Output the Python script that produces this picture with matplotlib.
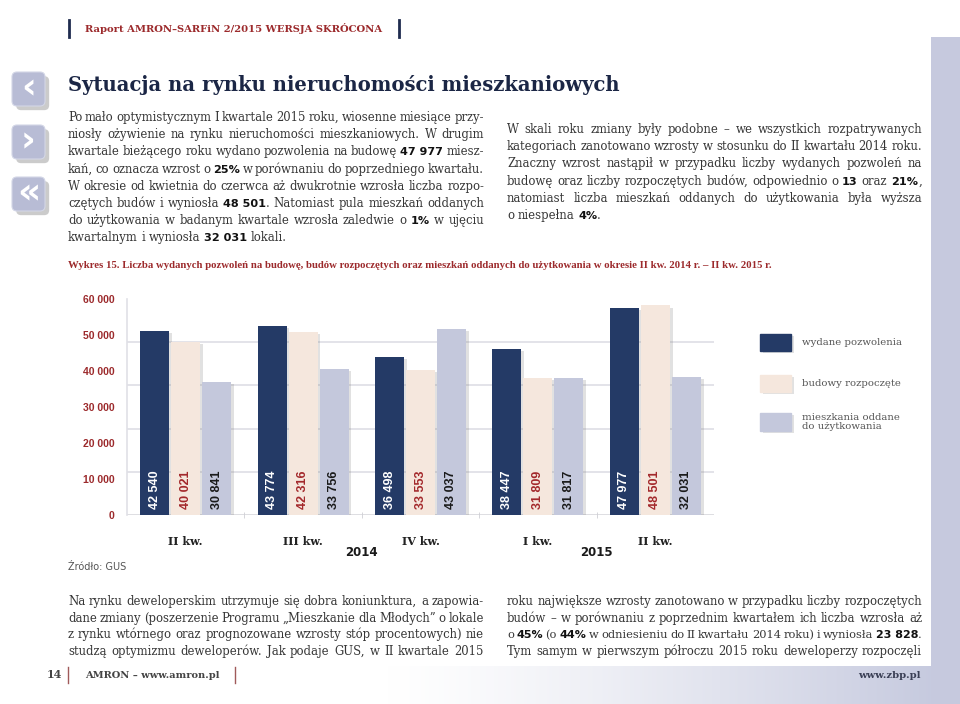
import matplotlib

matplotlib.use("Agg")
import matplotlib.pyplot as plt
import matplotlib.patheffects as pe
import numpy as np
from matplotlib.patches import FancyBboxPatch, Rectangle

# ── data ────────────────────────────────────────────────────────────────────
quarters = ["II kw.", "III kw.", "IV kw.", "I kw.", "II kw."]
years = ["2014", "2015"]
year_pos = [1.5, 3.5]
permits = [42540, 43774, 36498, 38447, 47977]
starts = [40021, 42316, 33553, 31809, 48501]
completed = [30841, 33756, 43037, 31817, 32031]
series_names = ["wydane pozwolenia", "budowy rozpoczęte", "mieszkania oddane\ndo użytkowania"]
ytick_labels = ["0", "10 000", "20 000", "30 000", "40 000", "50 000", "60 000"]
grid_values = [10000, 20000, 30000, 40000, 50000]

header = "Raport AMRON–SARFiN 2/2015 WERSJA SKRÓCONA"
title = "Sytuacja na rynku nieruchomości mieszkaniowych"
caption = ("Wykres 15. Liczba wydanych pozwoleń na budowę, budów rozpoczętych oraz mieszkań "
           "oddanych do użytkowania w okresie II kw. 2014 r. – II kw. 2015 r.")
left_par = [
    "Po mało optymistycznym I kwartale 2015 roku, wiosenne miesiące przy-",
    "niosły ożywienie na rynku nieruchomości mieszkaniowych. W drugim",
    "kwartale bieżącego roku wydano pozwolenia na budowę **47 977** miesz-",
    "kań, co oznacza wzrost o **25%** w porównaniu do poprzedniego kwartału.",
    "W okresie od kwietnia do czerwca aż dwukrotnie wzrosła liczba rozpo-",
    "czętych budów i wyniosła **48 501**. Natomiast pula mieszkań oddanych",
    "do użytkowania w badanym kwartale wzrosła zaledwie o **1%** w ujęciu",
    "kwartalnym i wyniosła **32 031** lokali.",
]
right_par = [
    "W skali roku zmiany były podobne – we wszystkich rozpatrywanych",
    "kategoriach zanotowano wzrosty w stosunku do II kwartału 2014 roku.",
    "Znaczny wzrost nastąpił w przypadku liczby wydanych pozwoleń na",
    "budowę oraz liczby rozpoczętych budów, odpowiednio o **13** oraz **21%**,",
    "natomiast liczba mieszkań oddanych do użytkowania była wyższa",
    "o niespełna **4%**.",
]
bottom_left = [
    "Na rynku deweloperskim utrzymuje się dobra koniunktura, a zapowia-",
    "dane zmiany (poszerzenie Programu „Mieszkanie dla Młodych” o lokale",
    "z rynku wtórnego oraz prognozowane wzrosty stóp procentowych) nie",
    "studzą optymizmu deweloperów. Jak podaje GUS, w II kwartale 2015",
]
bottom_right = [
    "roku największe wzrosty zanotowano w przypadku liczby rozpoczętych",
    "budów – w porównaniu z poprzednim kwartałem ich liczba wzrosła aż",
    "o **45%** (o **44%** w odniesieniu do II kwartału 2014 roku) i wyniosła **23 828**.",
    "Tym samym w pierwszym półroczu 2015 roku deweloperzy rozpoczęli",
]

NAVY = "#243a66"
BEIGE = "#f5e7dd"
LAV = "#c4c8dc"
DRED = "#9c2a2c"
TXT = "#363636"
SERIF = "DejaVu Serif"

W, H = 960, 704
fig = plt.figure(figsize=(W / 100, H / 100), dpi=100)
fig.patch.set_facecolor("white")
R = fig.canvas.get_renderer()

# page layer in pixel coordinates (y grows downwards)
bg = fig.add_axes([0, 0, 1, 1], zorder=0)
bg.axis("off")

grad = np.linspace(0, 1, 256)[None, :] ** 1.3
bg.imshow(grad, extent=[380, 960, 704, 666], cmap=matplotlib.colors.LinearSegmentedColormap.from_list(
    "g", ["white", "#c3c7dd"]), aspect="auto", zorder=0)
bg.add_patch(Rectangle((931, 37), 29, 667, color="#c6c9de", lw=0, zorder=1))
bg.set_xlim(0, W)
bg.set_ylim(H, 0)


def width_of(t):
    return t.get_window_extent(R).width


def fit(x, y, s, target, **kw):
    t = bg.text(x, y, s, fontsize=10, **kw)
    t.set_fontsize(10 * target / width_of(t))
    return t


# header
for xb in (69, 399):
    bg.plot([xb, xb], [20, 37], color="#1f2c4f", lw=2)
fit(85, 29, header, 297, family=SERIF, weight="bold", color=DRED, va="center")

# title
fit(68, 91, title, 555, family=SERIF, weight="bold", color="#1b2645", va="baseline")

# navigation icons
for yi, glyph in zip((72, 125, 177), ("‹", "›", "«")):
    box = FancyBboxPatch((12, yi), 33, 34, boxstyle="round,pad=0,rounding_size=5",
                         fc="#b8bcd5", ec="#d3d6e6", lw=0.8, zorder=3)
    box.set_path_effects([pe.SimplePatchShadow(offset=(3, -3), shadow_rgbFace="#555", alpha=0.3),
                          pe.Normal()])
    bg.add_patch(box)
    bg.text(28.5, yi + 16, glyph, fontsize=26, color="white", weight="bold",
            ha="center", va="center", family="DejaVu Sans", zorder=4)


# justified paragraphs
def parse(line):
    units = []
    parts = line.split("**")
    for i, part in enumerate(parts):
        if i % 2 == 1:
            if units and parts[i - 1] and not parts[i - 1].endswith(" "):
                units[-1].append((part, True))
            else:
                units.append([(part, True)])
            continue
        for j, w in enumerate(part.split(" ")):
            if not w:
                continue
            if j == 0 and i > 0:
                units[-1].append((w, False))
            else:
                units.append([(w, False)])
    return units


def make_piece(txt, bold, size):
    if bold:
        return bg.text(0, 0, txt, fontsize=size * 0.97, family="DejaVu Sans", weight="heavy",
                       color="#111111", va="baseline")
    return bg.text(0, 0, txt, fontsize=size, family=SERIF, color=TXT, va="baseline")


def draw_par(lines, x0, x1, y0, step, size, justify_last=False, min_gap=2.6):
    sp = size * 100 / 72 * 0.32
    for k, line in enumerate(lines):
        y = y0 + k * step
        units = [[(make_piece(txt, b, size), b) for txt, b in u] for u in parse(line)]
        widths = [sum(width_of(t) for t, _ in u) for u in units]
        n = len(units)
        need = sum(widths) + min_gap * (n - 1)
        if need > x1 - x0:  # squeeze an overfull line
            f = (x1 - x0 - min_gap * (n - 1)) / sum(widths)
            for u in units:
                for t, _ in u:
                    t.set_fontsize(t.get_fontsize() * f)
            widths = [sum(width_of(t) for t, _ in u) for u in units]
        if (k < len(lines) - 1 or justify_last) and n > 1:
            gap = (x1 - x0 - sum(widths)) / (n - 1)
        else:
            gap = sp
        x = x0
        for u in units:
            for t, _ in u:
                t.set_position((x, y))
                x += width_of(t)
            x += gap


body = 8.4
draw_par(left_par, 68, 484, 121, 17.2, body)
draw_par(right_par, 507, 922, 133, 17.2, body)
draw_par(bottom_left, 68, 484, 605, 16.7, body, justify_last=True)
draw_par(bottom_right, 507, 922, 605, 16.7, body, justify_last=True)

# caption and source
fit(68, 266, caption, 702, family=["Liberation Sans Narrow", "Liberation Serif"],
    weight="bold", color=DRED, va="center")
bg.text(68, 567, "Źródło: GUS", fontsize=7, family="DejaVu Sans", color="#555555", va="center")

# footer
bg.text(62, 675, "14", fontsize=8, family=SERIF, weight="bold", color="#444444",
        ha="right", va="center")
for xb in (68, 235):
    bg.plot([xb, xb], [667, 683], color="#a05a5a", lw=1)
fit(85, 675, "AMRON – www.amron.pl", 134, family=SERIF, weight="bold", color="#444444",
    va="center")
fit(858, 675, "www.zbp.pl", 62, family=SERIF, weight="bold", color="#3a3f55", va="center")

# ── chart ───────────────────────────────────────────────────────────────────
ax = fig.add_axes([127 / W, 1 - 515 / H, 587 / W, 216 / H], zorder=2)
ax.set_facecolor("none")
x = np.arange(len(quarters))
step, bw = 0.264, 0.247
series = [permits, starts, completed]
colors = [NAVY, BEIGE, LAV]
label_colors = ["white", "#a3282b", "#1a1a1a"]
shadow = [pe.SimplePatchShadow(offset=(2, -1.5), shadow_rgbFace="#777", alpha=0.22), pe.Normal()]
for i, (vals, c, lc) in enumerate(zip(series, colors, label_colors)):
    xs = x + (i - 1) * step
    bars = ax.bar(xs, vals, width=bw, color=c, zorder=3)
    for b in bars:
        b.set_path_effects(shadow)
    for xv, v in zip(xs, vals):
        ax.annotate(f"{v:,}".replace(",", " "), (xv, 0), xytext=(0, 6),
                    textcoords="offset pixels", rotation=90, ha="center", va="bottom",
                    fontsize=9, weight="bold", family="Liberation Sans", color=lc, zorder=4)

ax.set_xlim(-0.5, len(quarters) - 0.5)
ax.set_ylim(0, 50000)
ax.set_yticks(np.linspace(0, 50000, len(ytick_labels)))
ax.set_yticklabels(ytick_labels, fontsize=7.5, weight="bold", family="Liberation Sans", color=DRED)
ax.set_yticks(grid_values, minor=True)
ax.tick_params(axis="y", which="both", length=0, pad=9)
ax.grid(which="minor", axis="y", color="#dedee5", lw=1.2, zorder=0)
ax.axhline(0, color="#d8d8dd", lw=1.2, zorder=1)
ax.set_xticks(x)
ax.set_xticklabels(quarters, fontsize=8, weight="bold", family=SERIF, color="#222222")
ax.set_xticks(x[:-1] + 0.5, minor=True)
ax.tick_params(axis="x", which="major", length=0, pad=15)
ax.tick_params(axis="x", which="minor", length=4, direction="inout", color="#cfcfd4")
for s in ("top", "right", "bottom"):
    ax.spines[s].set_visible(False)
ax.spines["left"].set_color("#e0e0e6")
ax.spines["left"].set_linewidth(1.2)
for xp, yl in zip(year_pos, years):
    ax.annotate(yl, (xp, 0), xycoords=("data", "axes fraction"), xytext=(0, -38),
                textcoords="offset pixels", ha="center", va="center", fontsize=8.5,
                weight="bold", family="DejaVu Sans", color="#1a1a1a")

# legend
for (yl, hl), c, name in zip(((334, 17), (375, 17), (413, 18)), colors, series_names):
    r = Rectangle((760, yl), 31, hl, color=c, zorder=3)
    r.set_path_effects(shadow)
    bg.add_patch(r)
    bg.text(802, yl + hl / 2, name, fontsize=7.3, family=SERIF, color="#555555",
            va="center", linespacing=0.95)

fig.savefig("out.png", dpi=100, facecolor="white")
